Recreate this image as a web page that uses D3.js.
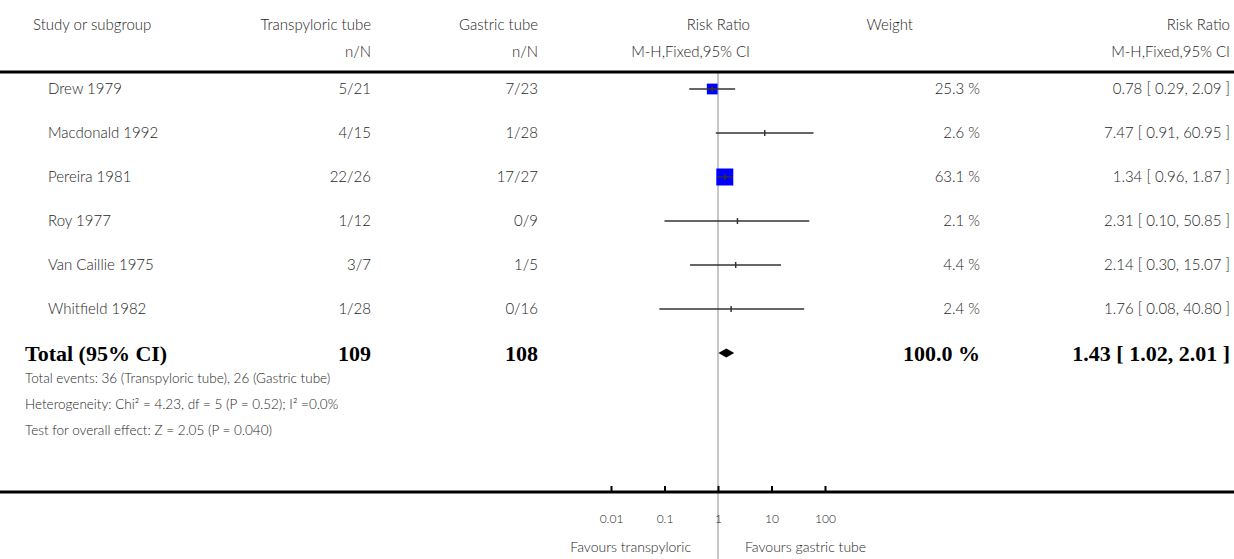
<!DOCTYPE html>
<html>
<head>
<meta charset="utf-8">
<script src="https://cdn.jsdelivr.net/npm/d3@7"></script>
<style>
  body { margin: 0; background: #fff; }
  svg text { font-family: Lato, "Open Sans", sans-serif; font-weight: 300; fill: #1e1e1e; }
  svg text.bold { font-family: "Liberation Serif", "DejaVu Serif", serif; font-weight: bold; fill: #000; }
</style>
</head>
<body>
<div id="chart"></div>
<script>
// study rows
const studies = ["Drew 1979", "Macdonald 1992", "Pereira 1981", "Roy 1977", "Van Caillie 1975", "Whitfield 1982"];
const tpEvents = [5, 4, 22, 1, 3, 1];
const tpTotal = [21, 15, 26, 12, 7, 28];
const gEvents = [7, 1, 17, 0, 1, 0];
const gTotal = [23, 28, 27, 9, 5, 16];
const weights = [25.3, 2.6, 63.1, 2.1, 4.4, 2.4];
const rr = [0.78, 7.47, 1.34, 2.31, 2.14, 1.76];
const ciLow = [0.29, 0.91, 0.96, 0.10, 0.30, 0.08];
const ciHigh = [2.09, 60.95, 1.87, 50.85, 15.07, 40.80];

// pooled
const totalN = [109, 108];
const totalWeight = 100.0;
const totalRR = [1.43, 1.02, 2.01];
const footLines = [
  "Total events: 36 (Transpyloric tube), 26 (Gastric tube)",
  "Heterogeneity: Chi\u00b2 = 4.23, df = 5 (P = 0.52); I\u00b2 =0.0%",
  "Test for overall effect: Z = 2.05 (P = 0.040)"
];

const tickValues = [0.01, 0.1, 1, 10, 100];
const tickLabels = ["0.01", "0.1", "1", "10", "100"];

const width = 1234, height = 559;

const svg = d3.select("#chart").append("svg")
    .attr("width", width)
    .attr("height", height);

const x = d3.scaleLog().domain([0.01, 100]).range([611, 825]);
const rowY = d3.scalePoint().domain(d3.range(studies.length + 1)).range([89, 353]);

// column positions
const colTp = 371, colG = 538, colRR = 750, colW = 913, colWval = 980, colRight = 1230;
const fs = 15;

function txt(xp, yp, s, anchor, size) {
  return svg.append("text")
    .attr("x", xp).attr("y", yp)
    .attr("dy", "0.35em")
    .attr("text-anchor", anchor || "start")
    .style("font-size", (size || fs) + "px")
    .text(s);
}

// header
txt(33, 25, "Study or subgroup");
txt(colTp, 25, "Transpyloric tube", "end");
txt(colG, 25, "Gastric tube", "end");
txt(colRR, 25, "Risk Ratio", "end");
txt(colW, 25, "Weight", "end");
txt(colRight, 25, "Risk Ratio", "end");
txt(colTp, 52, "n/N", "end");
txt(colG, 52, "n/N", "end");
txt(colRR, 52, "M-H,Fixed,95% CI", "end");
txt(colRight, 52, "M-H,Fixed,95% CI", "end");

// null line
svg.append("line")
    .attr("x1", x(1)).attr("x2", x(1))
    .attr("y1", 72).attr("y2", height)
    .attr("stroke", "#b4b4b4")
    .attr("stroke-width", 1.5);

svg.append("line")
    .attr("x1", 0).attr("x2", width)
    .attr("y1", 72).attr("y2", 72)
    .attr("stroke", "#000")
    .attr("stroke-width", 3);

// study rows
const rows = svg.selectAll("g.row")
  .data(studies)
  .enter().append("g")
    .attr("class", "row")
    .attr("transform", (d, i) => "translate(0," + rowY(i) + ")");

rows.append("text").attr("x", 48).attr("dy", "0.35em").style("font-size", fs + "px").text(d => d);
rows.append("text").attr("x", colTp).attr("dy", "0.35em").attr("text-anchor", "end").style("font-size", fs + "px")
    .text((d, i) => tpEvents[i] + "/" + tpTotal[i]);
rows.append("text").attr("x", colG).attr("dy", "0.35em").attr("text-anchor", "end").style("font-size", fs + "px")
    .text((d, i) => gEvents[i] + "/" + gTotal[i]);
rows.append("text").attr("x", colWval).attr("dy", "0.35em").attr("text-anchor", "end").style("font-size", fs + "px")
    .text((d, i) => weights[i].toFixed(1) + " %");
rows.append("text").attr("x", colRight).attr("dy", "0.35em").attr("text-anchor", "end").style("font-size", fs + "px")
    .text((d, i) => rr[i].toFixed(2) + " [ " + ciLow[i].toFixed(2) + ", " + ciHigh[i].toFixed(2) + " ]");

// squares sized by weight (tiny ones are hidden by the tick anyway)
const boxSize = w => 2.14 * Math.sqrt(w);
rows.filter((d, i) => boxSize(weights[i]) >= 5)
  .append("rect")
    .attr("x", function(d) { const i = studies.indexOf(d); return x(rr[i]) - boxSize(weights[i]) / 2; })
    .attr("y", function(d) { const i = studies.indexOf(d); return -boxSize(weights[i]) / 2; })
    .attr("width", function(d) { return boxSize(weights[studies.indexOf(d)]); })
    .attr("height", function(d) { return boxSize(weights[studies.indexOf(d)]); })
    .attr("fill", "#0000ff");

rows.append("line")
    .attr("x1", (d, i) => x(ciLow[i]))
    .attr("x2", (d, i) => x(ciHigh[i]))
    .attr("stroke", "#333")
    .attr("stroke-width", 1.3);

rows.append("line")
    .attr("x1", (d, i) => x(rr[i])).attr("x2", (d, i) => x(rr[i]))
    .attr("y1", -3).attr("y2", 3)
    .attr("stroke", "#333")
    .attr("stroke-width", 1.5);

// total row
const ty = rowY(studies.length);
const bfs = 22;
function bold(xp, s, anchor) {
  svg.append("text").attr("class", "bold")
    .attr("x", xp).attr("y", ty).attr("dy", "0.35em")
    .attr("text-anchor", anchor || "start")
    .style("font-size", bfs + "px")
    .text(s);
}
bold(25, "Total (95% CI)");
bold(colTp, totalN[0], "end");
bold(colG, totalN[1], "end");
bold(colWval, totalWeight.toFixed(1) + " %", "end");
bold(colRight, totalRR[0].toFixed(2) + " [ " + totalRR[1].toFixed(2) + ", " + totalRR[2].toFixed(2) + " ]", "end");

svg.append("path")
    .attr("d", "M" + x(totalRR[1]) + "," + ty +
               "L" + x(totalRR[0]) + "," + (ty - 4.5) +
               "L" + x(totalRR[2]) + "," + ty +
               "L" + x(totalRR[0]) + "," + (ty + 4.5) + "Z")
    .attr("fill", "#000");

// footnotes
footLines.forEach(function(s, i) {
  txt(25, 378 + i * 26, s, "start", 13.5);
});

// axis
svg.append("line")
    .attr("x1", 0).attr("x2", width)
    .attr("y1", 492).attr("y2", 492)
    .attr("stroke", "#000")
    .attr("stroke-width", 3);

const axis = d3.axisBottom(x)
    .tickValues(tickValues)
    .tickFormat((d, i) => tickLabels[i])
    .tickSizeInner(-6)
    .tickSizeOuter(0)
    .tickPadding(22);

const gAxis = svg.append("g")
    .attr("transform", "translate(0,492)")
    .call(axis);
gAxis.select(".domain").remove();
gAxis.selectAll(".tick line").attr("stroke", "#000").attr("stroke-width", 2);
gAxis.selectAll(".tick text")
    .style("font-size", "12px")
    .style("font-family", "Lato, sans-serif")
    .style("font-weight", 300)
    .attr("fill", "#1e1e1e");

txt(x(1) - 27, 547, "Favours transpyloric", "end", 14);
txt(x(1) + 27, 547, "Favours gastric tube", "start", 14);
</script>
</body>
</html>
